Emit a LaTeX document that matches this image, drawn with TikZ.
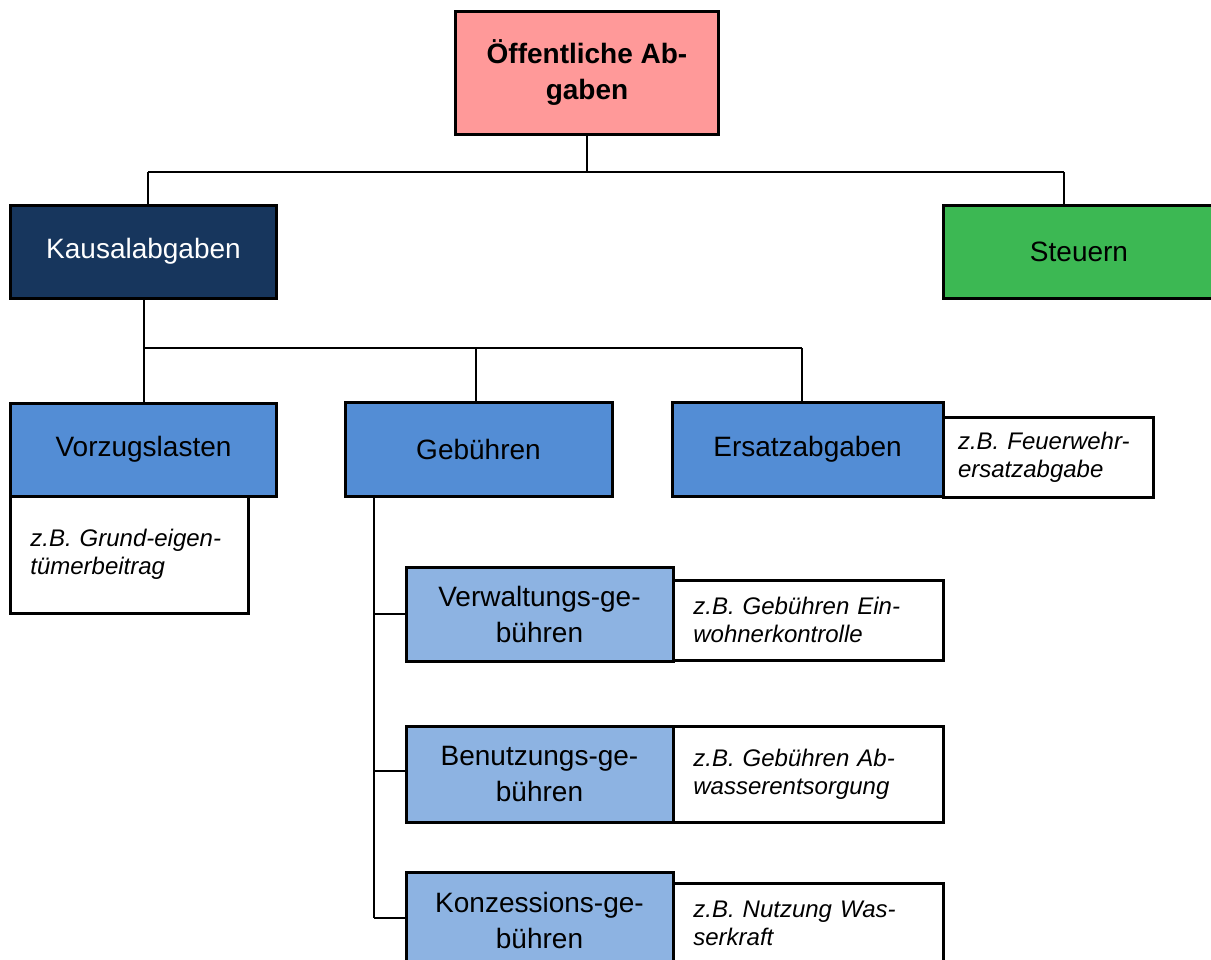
\documentclass[tikz,border=0pt]{standalone}
\usepackage{fontspec}
\setmainfont{Liberation Sans}
\definecolor{pinkc}{HTML}{FF9999}
\definecolor{navyc}{HTML}{17365D}
\definecolor{bluec}{HTML}{538DD5}
\definecolor{lbluec}{HTML}{8DB3E2}
\definecolor{greenc}{HTML}{3CB853}
\tikzset{
  boxbase/.style={draw=black, line width=2.25pt, inner sep=0pt, outer sep=0pt, align=center,
    font=\fontsize{21}{27}\selectfont},
  notebox/.style={draw=black, line width=2.25pt, fill=white, inner sep=0pt, outer sep=0pt, align=left,
    font=\fontsize{18}{21}\selectfont\itshape},
  conn/.style={draw=black, line width=1.5pt}
}
\begin{document}
\begin{tikzpicture}[x=0.75pt,y=-0.75pt]
\useasboundingbox (0,0) rectangle (1211,960);
\clip (0,0) rectangle (1211,960);
% level 0
\node[boxbase, fill=pinkc, minimum width=197.25pt, minimum height=92.25pt, font=\fontsize{21}{27}\selectfont\bfseries] (top) at (587,72.5) {Öffentliche Ab-\\gaben};
% level 1
\node[boxbase, fill=navyc, text=white, minimum width=199.5pt, minimum height=69.75pt] (kaus) at (143.5,251.5) {Kausalabgaben};
\node[boxbase, fill=greenc, minimum width=204pt, minimum height=69.75pt] (steu) at (1079,251.5) {Steuern};
% level 2
\node[boxbase, fill=bluec, minimum width=199.5pt, minimum height=69.75pt] (vorz) at (143.5,449.5) {Vorzugslasten};
\node[boxbase, fill=bluec, minimum width=200.25pt, minimum height=70.5pt] (geb) at (478.5,449.5) {Gebühren};
\node[boxbase, fill=bluec, minimum width=203.25pt, minimum height=70.5pt] (ers) at (807.5,449.5) {Ersatzabgaben};
% notes level 2
\node[notebox, minimum width=178.5pt, minimum height=87.75pt, text width=148pt] (vnote) at (129,554.5) {z.B. Grund-eigen-\\tümerbeitrag};
\node[notebox, minimum width=157.5pt, minimum height=60pt, text width=135pt] (enote) at (1048,457) {z.B. Feuerwehr-\\ersatzabgabe};
% level 3
\node[boxbase, fill=lbluec, minimum width=200.25pt, minimum height=70.5pt] (verw) at (539.5,614) {Verwaltungs-ge-\\bühren};
\node[boxbase, fill=lbluec, minimum width=200.25pt, minimum height=72pt] (benu) at (539.5,774) {Benutzungs-ge-\\bühren};
\node[boxbase, fill=lbluec, minimum width=200.25pt, minimum height=72pt] (konz) at (539.5,920) {Konzessions-ge-\\bühren};
% notes level 3
\node[notebox, minimum width=202.5pt, minimum height=60pt, text width=172pt] (wnote) at (808,620) {z.B. Gebühren Ein-\\wohnerkontrolle};
\node[notebox, minimum width=202.5pt, minimum height=72pt, text width=172pt] (bnote) at (808,774) {z.B. Gebühren Ab-\\wasserentsorgung};
\node[notebox, minimum width=202.5pt, minimum height=60pt, text width=172pt] (knote) at (808,923) {z.B. Nutzung Was-\\serkraft};
% connectors level 0 -> 1
\coordinate (j0) at (587,172);
\coordinate (j0l) at (148,172);
\coordinate (j0r) at (1064,172);
\draw[conn] (top.south) -- (j0);
\draw[conn] (j0l) -- (j0r);
\draw[conn] (j0l) -- (j0l |- kaus.north);
\draw[conn] (j0r) -- (j0r |- steu.north);
% connectors level 1 -> 2
\coordinate (j1) at (143.5,348);
\coordinate (j1m) at (476,348);
\coordinate (j1r) at (802,348);
\draw[conn] (kaus.south) -- (j1) -- (j1r);
\draw[conn] (j1) -- (vorz.north);
\draw[conn] (j1m) -- (j1m |- geb.north);
\draw[conn] (j1r) -- (j1r |- ers.north);
% connectors level 2 -> 3
\coordinate (g0) at (374,497);
\coordinate (g3) at (374,918);
\coordinate (g2) at (374,771);
\draw[conn] (g0) -- (g3);
\draw[conn] (g0 |- verw.west) -- (verw.west);
\draw[conn] (g2) -- (g2 -| benu.west);
\draw[conn] (g3) -- (g3 -| konz.west);
\end{tikzpicture}
\end{document}
